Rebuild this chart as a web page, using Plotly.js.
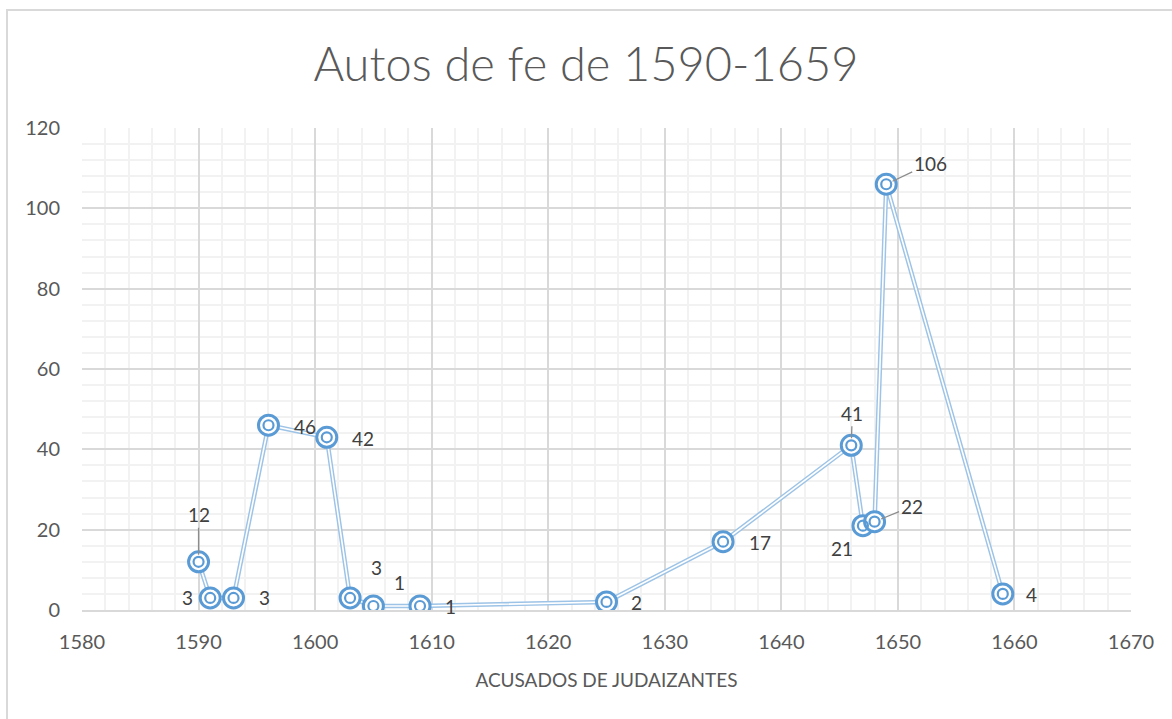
<!DOCTYPE html>
<html>
<head>
<meta charset="utf-8">
<script src="https://cdn.plot.ly/plotly-3.0.1.min.js"></script>
<style>
html,body{margin:0;padding:0;background:#fff;overflow:hidden;}
#frame{position:absolute;left:6px;top:9px;width:1300px;height:900px;border:2px solid #d9d9d9;box-sizing:border-box;}
#chart{position:absolute;left:0;top:0;width:1172px;height:719px;}
</style>
</head>
<body>
<div id="frame"></div>
<div id="chart"></div>
<script>
const years = [1590, 1591, 1593, 1596, 1601, 1603, 1605, 1609, 1625, 1635, 1646, 1647, 1648, 1649, 1659];
const accused = [12, 3, 3, 46, 43, 3, 1, 1, 2, 17, 41, 21, 22, 106, 4];
const labels = ['12', '3', '3', '46', '42', '3', '1', '1', '2', '17', '41', '21', '22', '106', '4'];
const xTicks = [1580, 1590, 1600, 1610, 1620, 1630, 1640, 1650, 1660, 1670];
const yTicks = [0, 20, 40, 60, 80, 100, 120];

// label offsets (px) relative to each point, and whether a leader line is drawn
const offsets = [[0,-47,true],[-23,0,false],[31,0,false],[37,1,false],[36,1,false],[26,-30,false],[26,-23,false],[30,1,false],[30,1,false],[37,1,false],[1,-32,true],[-21,23,false],[37,-15,true],[44,-21,true],[29,1,false]];

const blue = '#5B9BD5';
const lightBlue = '#9DC3E6';
const font = 'Lato, "Open Sans", sans-serif';

const traces = [
  {x: years, y: accused, mode: 'lines', line: {color: lightBlue, width: 4.5}, hoverinfo: 'skip', showlegend: false},
  {x: years, y: accused, mode: 'lines', line: {color: '#ffffff', width: 1.6}, hoverinfo: 'skip', showlegend: false},
  {x: years, y: accused, mode: 'markers', marker: {symbol: 'circle', size: 20, color: '#ffffff', line: {color: blue, width: 3}}, showlegend: false},
  {x: years, y: accused, mode: 'markers', marker: {symbol: 'circle-open', size: 10, color: blue, line: {color: blue, width: 2.2}}, showlegend: false}
];

const annotations = years.map((yr, i) => ({
  x: yr, y: accused[i], xref: 'x', yref: 'y',
  text: labels[i],
  showarrow: true,
  ax: offsets[i][0], ay: offsets[i][1],
  arrowhead: 0, arrowwidth: 1.3, arrowcolor: offsets[i][2] ? '#8c8c8c' : 'rgba(0,0,0,0)',
  standoff: 7,
  font: {family: font, size: 19, color: '#404040'}
}));

const layout = {
  width: 1172, height: 719,
  margin: {l: 82, r: 41, t: 128, b: 109},
  paper_bgcolor: 'rgba(0,0,0,0)',
  plot_bgcolor: '#ffffff',
  title: {text: 'Autos de fe de 1590-1659', font: {family: font, size: 47, color: '#595959', weight: 300}, x: 0.5, xanchor: 'center', y: 0.91, yanchor: 'middle'},
  xaxis: {
    range: [1580, 1670], tickvals: xTicks, ticktext: xTicks.map(String),
    showgrid: true, gridcolor: '#d9d9d9', gridwidth: 2,
    minor: {dtick: 2, showgrid: true, gridcolor: '#f2f2f2', gridwidth: 2},
    zeroline: false, showline: true, linecolor: '#d9d9d9', linewidth: 2, mirror: false,
    ticks: '', ticklabelstandoff: 13,
    tickfont: {family: font, size: 20, color: '#595959'},
    title: {text: 'ACUSADOS DE JUDAIZANTES', font: {family: font, size: 19, color: '#595959'}, standoff: 22}
  },
  yaxis: {
    range: [0, 120], tickvals: yTicks, ticktext: yTicks.map(String),
    showgrid: true, gridcolor: '#d9d9d9', gridwidth: 2,
    minor: {dtick: 4, showgrid: true, gridcolor: '#f2f2f2', gridwidth: 2},
    zeroline: false, showline: false,
    ticks: '', ticklabelstandoff: 21,
    tickfont: {family: font, size: 20, color: '#595959'}
  },
  annotations: annotations,
  showlegend: false
};

Plotly.newPlot('chart', traces, layout, {displayModeBar: false, staticPlot: true});
</script>
</body>
</html>
